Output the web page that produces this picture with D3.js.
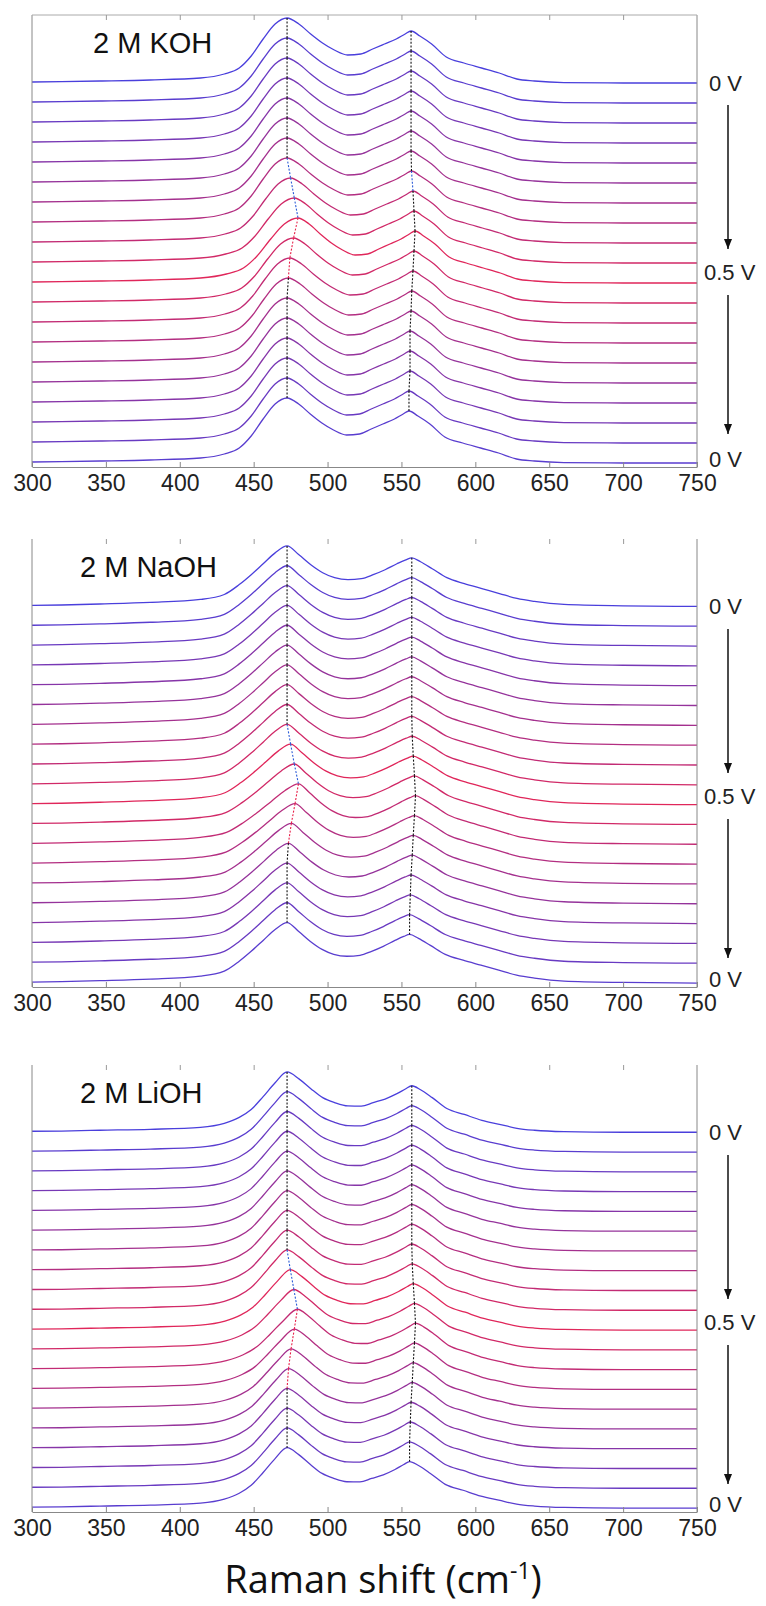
<!DOCTYPE html>
<html>
<head>
<meta charset="utf-8">
<script src="https://cdn.jsdelivr.net/npm/d3@7"></script>
<style>
  body { margin: 0; background: #fff; }
  svg { display: block; }
</style>
</head>
<body>
<svg id="chart" width="766" height="1606"></svg>
<script>
const wavenumbers = [300, 320, 346, 380, 414, 430, 440, 448, 456, 464, 472, 480, 488, 496, 504, 513, 522,
  530, 538, 546, 552, 556, 562, 570, 580, 592, 604, 616, 628, 640, 660, 700, 750];

// intensity above each trace's baseline, in units of the stacking offset
const kohProfile = [0.05, 0.07, 0.1, 0.15, 0.25, 0.45, 0.75, 1.35, 2.2, 2.95, 3.25, 2.95, 2.45, 2.0, 1.65, 1.4, 1.45,
  1.7, 1.95, 2.2, 2.45, 2.6, 2.35, 1.95, 1.3, 1.0, 0.75, 0.5, 0.2, 0.1, 0.02, 0, 0];
const naohProfile = [0.05, 0.07, 0.12, 0.2, 0.35, 0.6, 1.1, 1.6, 2.15, 2.7, 3.05, 2.6, 2.1, 1.7, 1.45, 1.35, 1.4,
  1.6, 1.85, 2.15, 2.35, 2.45, 2.25, 1.9, 1.45, 1.15, 0.9, 0.65, 0.4, 0.25, 0.1, 0.03, 0];
const liohProfile = [0.05, 0.06, 0.1, 0.15, 0.25, 0.45, 0.75, 1.15, 1.8, 2.5, 3.05, 2.7, 2.2, 1.75, 1.5, 1.33, 1.32,
  1.5, 1.68, 1.95, 2.2, 2.35, 2.15, 1.75, 1.2, 0.9, 0.6, 0.4, 0.2, 0.1, 0.03, 0, 0];

// applied potential of each spectrum, top to bottom (V)
const potentials = [0, 0.05, 0.1, 0.15, 0.2, 0.25, 0.3, 0.35, 0.4, 0.45, 0.5, 0.45, 0.4, 0.35, 0.3, 0.25, 0.2, 0.15, 0.1, 0.05];

// peak positions of each spectrum (cm-1)
const kohPeak1 = [472.6, 472.6, 472.6, 472.6, 472.6, 472.6, 472.6, 472.6, 475, 477.5, 480, 477, 474.5, 473.5, 472.6, 472.6, 472.6, 472.6, 472.6, 472.6];
const kohPeak2 = [556.5, 556.5, 556.5, 556.5, 556.5, 556.5, 556.5, 556.8, 557.8, 558.5, 559.2, 558.5, 557.8, 557, 556.5, 555.8, 555.8, 555.8, 555.1, 555.1];
const naohPeak1 = [472.6, 472.6, 472.6, 472.6, 472.6, 472.6, 472.6, 472.6, 472.6, 472.6, 475, 477.5, 480.3, 478, 475.5, 473.5, 472.6, 472.6, 472.6, 472.6];
const naohPeak2 = [557, 557, 557, 557, 557, 557, 557, 557, 557, 557.3, 558, 558.8, 559.5, 558.8, 558, 557.3, 556.5, 556, 555.5, 555.5];
const liohPeak1 = [472.6, 472.6, 472.6, 472.6, 472.6, 472.6, 472.6, 472.6, 472.6, 472.6, 474.8, 477.2, 479.6, 477.5, 475.3, 473.6, 472.6, 472.6, 472.6, 472.6];
const liohPeak2 = [557, 557, 557, 557, 557, 557, 557, 557, 557, 557.3, 558, 558.8, 559.5, 558.8, 558, 557.3, 556.5, 556, 555.5, 555.5];

const panelLabels = ['2 M KOH', '2 M NaOH', '2 M LiOH'];
const xTicks = [300, 350, 400, 450, 500, 550, 600, 650, 700, 750];

const svg = d3.select('#chart');
const x = d3.scaleLinear().domain([300, 750]).range([32, 697]);
const color = d3.scaleLinear().domain([0, 0.5]).range(['#4a3fdc', '#e0265a']).interpolate(d3.interpolateRgb);

svg.append('defs').append('marker')
  .attr('id', 'head')
  .attr('viewBox', '0 0 10 10')
  .attr('refX', 10).attr('refY', 5)
  .attr('markerWidth', 10).attr('markerHeight', 10)
  .attr('markerUnits', 'userSpaceOnUse')
  .attr('orient', 'auto')
  .append('path').attr('d', 'M0,1 L10,5 L0,9 Z').attr('fill', '#111');

const panels = [
  { label: panelLabels[0], profile: kohProfile, peak1: kohPeak1, peak2: kohPeak2, top: 15, bottom: 467, labelX: 93, frameTop: true },
  { label: panelLabels[1], profile: naohProfile, peak1: naohPeak1, peak2: naohPeak2, top: 539, bottom: 987, labelX: 80, frameTop: false },
  { label: panelLabels[2], profile: liohProfile, peak1: liohPeak1, peak2: liohPeak2, top: 1065, bottom: 1512, labelX: 80, frameTop: false }
];

const n = potentials.length;
const font = '"Liberation Sans", Arial, sans-serif';

panels.forEach((p) => {
  const g = svg.append('g');
  const y = d3.scaleLinear().domain([0, 22.6]).range([p.bottom, p.top]);
  const offset = (i) => n - 1 - i + 0.2;

  // reference peak positions of the profile
  const iMax1 = d3.maxIndex(p.profile.slice(0, 15));
  const iMax2 = 15 + d3.maxIndex(p.profile.slice(15));
  const ref1 = wavenumbers[iMax1];
  const ref2 = wavenumbers[iMax2];

  const line = d3.line().x((d) => x(d[0])).y((d) => y(d[1])).curve(d3.curveMonotoneX);

  potentials.forEach((v, i) => {
    const d1 = p.peak1[i] - ref1;
    const d2 = p.peak2[i] - ref2;
    const shift = d3.scaleLinear()
      .domain([300, 420, ref1, 513, ref2, 640, 750])
      .range([0, 0, d1, (d1 + d2) / 2, d2, 0, 0]);
    const pts = wavenumbers.map((w, k) => [w + shift(w), p.profile[k] + offset(i)]);
    g.append('path')
      .attr('d', line(pts))
      .attr('fill', 'none')
      .attr('stroke', color(v))
      .attr('stroke-width', 1.3);
  });

  // dotted lines following the two peaks
  [[p.peak1, iMax1], [p.peak2, iMax2]].forEach(([pk, iMax]) => {
    for (let i = 0; i < n - 1; i++) {
      const dx = pk[i + 1] - pk[i];
      const c = Math.abs(dx) < 0.9 ? '#111' : (dx > 0 ? '#2b5bd8' : '#e8204a');
      g.append('line')
        .attr('x1', x(pk[i])).attr('y1', y(p.profile[iMax] + offset(i)))
        .attr('x2', x(pk[i + 1])).attr('y2', y(p.profile[iMax] + offset(i + 1)))
        .attr('stroke', c)
        .attr('stroke-width', 1.1)
        .attr('stroke-dasharray', '2,1.6');
    }
  });

  // frame
  g.append('line').attr('x1', 32).attr('x2', 32).attr('y1', p.top).attr('y2', p.bottom).attr('stroke', '#888');
  g.append('line').attr('x1', 697).attr('x2', 697).attr('y1', p.top).attr('y2', p.bottom).attr('stroke', '#888');
  if (p.frameTop) {
    g.append('line').attr('x1', 32).attr('x2', 697).attr('y1', p.top).attr('y2', p.top).attr('stroke', '#aaa');
  }

  const bottomAxis = g.append('g')
    .attr('transform', `translate(0,${p.bottom})`)
    .call(d3.axisBottom(x).tickValues(xTicks).tickSizeInner(-5).tickSizeOuter(0).tickPadding(8));
  bottomAxis.select('.domain').attr('stroke', '#888');
  bottomAxis.selectAll('.tick line').attr('stroke', '#888');
  bottomAxis.selectAll('text')
    .attr('fill', '#222')
    .style('font-family', font)
    .style('font-size', '23px');

  const topAxis = g.append('g')
    .attr('transform', `translate(0,${p.top})`)
    .call(d3.axisTop(x).tickValues(xTicks.slice(1, -1)).tickSizeInner(-5).tickSizeOuter(0).tickFormat(''));
  topAxis.select('.domain').remove();
  topAxis.selectAll('.tick line').attr('stroke', '#999');

  g.append('text')
    .attr('x', p.labelX).attr('y', p.top + 38)
    .style('font-family', font)
    .style('font-size', '29px')
    .attr('fill', '#111')
    .text(p.label);

  // potential labels and arrows
  const base0 = y(offset(0));
  const lab = (txt, xx, yy) => g.append('text').attr('x', xx).attr('y', yy)
    .style('font-family', font)
    .style('font-size', '22px').attr('fill', '#222').text(txt);
  lab(`${potentials[0]} V`, 709, base0 + 8);
  lab(`${d3.max(potentials)} V`, 704, p.top + 265);
  lab(`${potentials[0]} V`, 709, p.bottom);
  g.append('line').attr('x1', 728).attr('x2', 728).attr('y1', p.top + 90).attr('y2', p.top + 234)
    .attr('stroke', '#111').attr('stroke-width', 1.5).attr('marker-end', 'url(#head)');
  g.append('line').attr('x1', 728).attr('x2', 728).attr('y1', p.top + 280).attr('y2', p.top + 419)
    .attr('stroke', '#111').attr('stroke-width', 1.5).attr('marker-end', 'url(#head)');
});

const title = svg.append('text')
  .attr('x', 383).attr('y', 1593)
  .attr('text-anchor', 'middle')
  .style('font-family', '"Open Sans", sans-serif')
  .style('font-size', '38px')
  .attr('fill', '#111');
title.append('tspan').text('Raman shift (cm');
title.append('tspan').attr('dy', -14).style('font-size', '23px').text('-1');
title.append('tspan').attr('dy', 14).text(')');
</script>
</body>
</html>
